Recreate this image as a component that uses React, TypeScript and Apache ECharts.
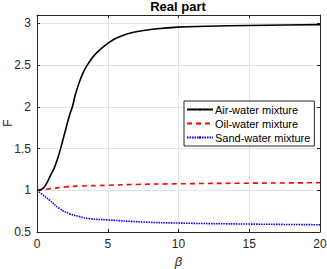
import React, { useEffect, useRef } from "react";
import * as echarts from "echarts";

const airBeta = [0, 0.3, 0.6, 0.9, 1.25, 1.6, 1.95, 2.3, 2.5, 2.77, 3.24, 3.71, 4.18, 5, 5.82, 7, 8.5, 10, 12, 15, 17.5, 20];
const airF = [1.0, 1.01, 1.06, 1.16, 1.28, 1.46, 1.68, 1.9, 2.0, 2.18, 2.4, 2.54, 2.64, 2.76, 2.84, 2.9, 2.935, 2.955, 2.965, 2.975, 2.98, 2.985];
const oilBeta = [0, 0.5, 1, 2, 3, 5, 7, 10, 15, 20];
const oilF = [1.0, 1.01, 1.02, 1.04, 1.05, 1.06, 1.07, 1.078, 1.085, 1.09];
const sandBeta = [0, 0.3, 0.9, 1.6, 2.3, 3.0, 3.7, 5, 7.5, 10, 15, 20];
const sandF = [1.0, 0.96, 0.88, 0.78, 0.72, 0.685, 0.66, 0.645, 0.62, 0.607, 0.595, 0.587];
const seriesNames = ["Air-water mixture", "Oil-water mixture", "Sand-water mixture"];
const xTicks = [0, 5, 10, 15, 20];
const yTicks = [0.5, 1, 1.5, 2, 2.5, 3];

const zip = (a: number[], b: number[]) => a.map((v, i) => [v, b[i]]);

export default function App() {
  const ref = useRef<HTMLDivElement>(null);
  useEffect(() => {
    if (!ref.current) return;
    const chart = echarts.init(ref.current, null, { renderer: "svg" });
    const font = "Liberation Sans, Arial, sans-serif";
    const axisColor = "#262626";
    const common = {
      axisLine: { show: true, onZero: false, lineStyle: { color: axisColor, width: 1 } },
      axisTick: { show: true, inside: true, length: 3, lineStyle: { color: axisColor } },
    };
    chart.setOption({
      animation: false,
      backgroundColor: "#ffffff",
      title: {
        text: "Real part",
        left: 178,
        top: 0,
        padding: 0,
        textAlign: "center",
        textStyle: { fontFamily: font, fontSize: 13, fontWeight: "bold", color: "#000" },
      },
      graphic: [
        {
          type: "text",
          x: 8,
          y: 123,
          rotation: Math.PI / 2,
          style: {
            text: "F",
            fontFamily: font,
            fontSize: 12,
            fill: "#262626",
            align: "center",
            verticalAlign: "middle",
          },
        },
      ],
      grid: { left: 37, right: 7, top: 15, bottom: 37, containLabel: false, outerBoundsMode: "none" },
      legend: {
        orient: "vertical",
        left: 184,
        top: 101,
        itemWidth: 26,
        itemHeight: 3,
        itemGap: 3,
        padding: [3, 4, 3, 2],
        borderColor: axisColor,
        borderWidth: 1,
        backgroundColor: "#ffffff",
        textStyle: { fontFamily: font, fontSize: 11, color: "#000", padding: [0, 0, 0, -3] },
        data: seriesNames,
      },
      xAxis: [
        {
          type: "value",
          min: 0,
          max: 20,
          interval: 5,
          name: "β",
          nameLocation: "middle",
          nameGap: 21,
          nameTextStyle: { fontFamily: font, fontSize: 13, fontStyle: "italic", color: "#262626" },
          axisLabel: {
            fontFamily: font,
            fontSize: 12,
            color: "#262626",
            margin: 6,
            formatter: (v: number) => (xTicks.includes(v) ? String(v) : ""),
          },
          splitLine: { show: true, lineStyle: { color: "#e3e3e3", width: 1 } },
          ...common,
        },
        {
          type: "value",
          min: 0,
          max: 20,
          interval: 5,
          position: "top",
          axisLabel: { show: false },
          splitLine: { show: false },
          ...common,
        },
      ],
      yAxis: [
        {
          type: "value",
          min: 0.5,
          max: 3.1,
          interval: 0.5,
          axisLabel: {
            fontFamily: font,
            fontSize: 12,
            color: "#262626",
            margin: 6,
            formatter: (v: number) => (yTicks.includes(v) ? String(v) : ""),
          },
          splitLine: { show: true, lineStyle: { color: "#e3e3e3", width: 1 } },
          ...common,
        },
        {
          type: "value",
          min: 0.5,
          max: 3.1,
          interval: 0.5,
          position: "right",
          axisLabel: { show: false },
          splitLine: { show: false },
          ...common,
        },
      ],
      series: [
        {
          name: seriesNames[0],
          type: "line",
          data: zip(airBeta, airF),
          smooth: true,
          symbol: "none",
          lineStyle: { color: "#000000", width: 1.6, type: "solid" },
          itemStyle: { color: "#000000" },
          z: 3,
        },
        {
          name: seriesNames[1],
          type: "line",
          data: zip(oilBeta, oilF),
          smooth: true,
          symbol: "none",
          lineStyle: { color: "#ff0000", width: 1.6, type: [5, 4] },
          itemStyle: { color: "#ff0000" },
          z: 2,
        },
        {
          name: seriesNames[2],
          type: "line",
          data: zip(sandBeta, sandF),
          smooth: true,
          symbol: "none",
          lineStyle: { color: "#0000ff", width: 1.6, type: [1.5, 1] },
          itemStyle: { color: "#0000ff" },
          z: 2,
        },
      ],
    });
    return () => chart.dispose();
  }, []);
  return (
    <div
      ref={ref}
      style={{ position: "fixed", left: 0, top: 0, width: 327, height: 269, background: "#fff" }}
    />
  );
}
